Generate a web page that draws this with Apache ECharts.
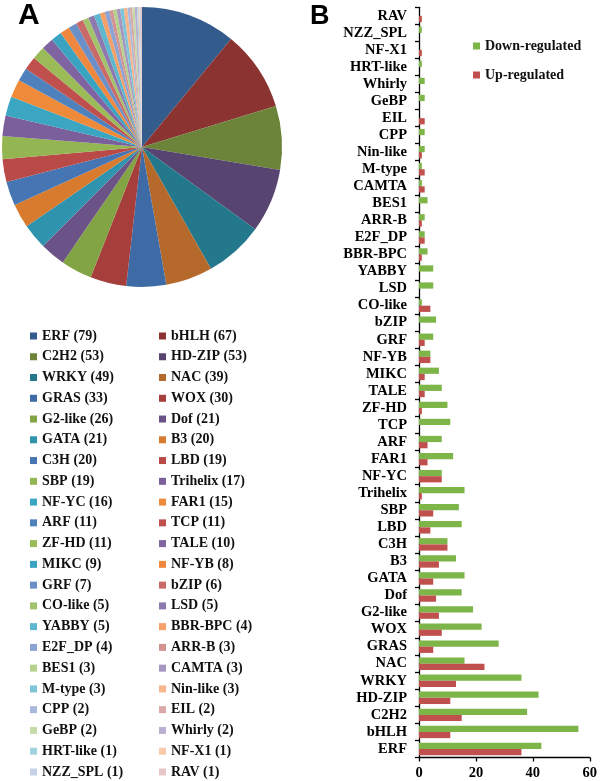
<!DOCTYPE html>
<html>
<head>
<meta charset="utf-8">
<script src="https://cdn.jsdelivr.net/npm/echarts@6/dist/echarts.min.js"></script>
<style>html,body{margin:0;padding:0;background:#fff;}#c{width:600px;height:781px;}</style>
</head>
<body>
<div id="c"></div>
<script>
var families = ['ERF','bHLH','C2H2','HD-ZIP','WRKY','NAC','GRAS','WOX','G2-like','Dof','GATA','B3','C3H','LBD','SBP','Trihelix','NF-YC','FAR1','ARF','TCP','ZF-HD','TALE','MIKC','NF-YB','GRF','bZIP','CO-like','LSD','YABBY','BBR-BPC','E2F_DP','ARR-B','BES1','CAMTA','M-type','Nin-like','CPP','EIL','GeBP','Whirly','HRT-like','NF-X1','NZZ_SPL','RAV'];
var familyCounts = [79,67,53,53,49,39,33,30,26,21,21,20,20,19,19,17,16,15,11,11,11,10,9,8,7,6,5,5,5,4,4,3,3,3,3,3,2,2,2,2,1,1,1,1];
var downRegulated = [43,56,38,42,36,16,28,22,19,15,16,13,10,15,14,16,8,12,8,11,10,8,7,4,5,6,1,5,5,3,2,2,3,1,1,2,2,0,2,2,1,0,1,0];
var upRegulated = [36,11,15,11,13,23,5,8,7,6,5,7,10,4,5,1,8,3,3,0,1,2,2,4,2,0,4,0,0,1,2,1,0,2,2,1,0,2,0,0,0,1,0,1];
var xTicks = [0,20,40,60];
var sliceColors = ['#335C8C','#8B3331','#6C8439','#584470','#23788C','#B5692A','#3E6BA5','#A63E3B','#83A445','#6B5387','#2F93AE','#D87B2E','#4675B3','#BA4A47','#93B552','#7A5F9A','#3BA6C2','#EF8A3A','#4F81BD','#C0504D','#9BBB59','#8064A2','#3AA3C2','#F0873F','#6C8FC7','#C96A68','#A3C26C','#8E79AF','#5DB7CF','#F5A066','#8CA4D3','#D49290','#B5D18D','#A595C1','#7EC4D8','#F6B58A','#A8B9DD','#DBA8A7','#C5DBA9','#BBB0D1','#A3D2E0','#F7CAAA','#C6D1E8','#E6C6C6'];

var countMap = {};
families.forEach(function(n,i){countMap[n]=familyCounts[i];});
var leftNames = families.filter(function(n,i){return i%2===0;});
var rightNames = families.filter(function(n,i){return i%2===1;});
var serif = 'Liberation Serif';

var pieLegend = function(names, left){
  return {
    data: names, orient: 'vertical', left: left, top: 328, height: 455, padding: 0,
    itemWidth: 7, itemHeight: 7, itemGap: 4.76, icon: 'rect',
    selectedMode: false,
    textStyle: {fontFamily: serif, fontWeight: 'bold', fontSize: 14, color: '#111', lineHeight: 16},
    formatter: function(name){ return name + ' (' + countMap[name] + ')'; }
  };
};

var chart = echarts.init(document.getElementById('c'));
chart.setOption({
  animation: false,
  graphic: [
    {type:'text', left: 18, top: 1, style:{text:'A', font:'bold 30px "Liberation Sans"', fill:'#000'}},
    {type:'text', left: 310, top: 3, style:{text:'B', font:'bold 27px "Liberation Sans"', fill:'#000'}}
  ],
  legend: [
    pieLegend(leftNames, 30),
    pieLegend(rightNames, 159),
    {
      data: ['Down-regulated','Up-regulated'], orient: 'vertical', left: 473, top: 38, padding: 0,
      itemWidth: 7, itemHeight: 7, itemGap: 13, icon: 'rect', selectedMode: false,
      textStyle: {fontFamily: serif, fontWeight: 'bold', fontSize: 14, color: '#111', lineHeight: 16}
    }
  ],
  grid: {left: 419, right: 9, top: 7.3, bottom: 23.5, containLabel: false},
  xAxis: {
    type: 'value', min: 0, max: 60, interval: 20,
    splitLine: {show: false},
    axisLine: {show: true, lineStyle: {color: '#000', width: 1.3}},
    axisTick: {show: true, length: 4, lineStyle: {color: '#000', width: 1.3}},
    axisLabel: {fontFamily: serif, fontWeight: 'bold', fontSize: 14.5, color: '#000', margin: 8,
      formatter: function(v){ return xTicks.indexOf(v) >= 0 ? String(v) : ''; }}
  },
  yAxis: {
    type: 'category', data: families,
    axisLine: {show: true, lineStyle: {color: '#000', width: 1.3}},
    axisTick: {show: true, length: 4, lineStyle: {color: '#000', width: 1.3}},
    axisLabel: {fontFamily: serif, fontWeight: 'bold', fontSize: 14.5, color: '#000', margin: 12, interval: 0}
  },
  series: [
    {
      type: 'pie', center: [142, 147], radius: 140, startAngle: 90, clockwise: true,
      label: {show: false}, labelLine: {show: false}, emphasis: {disabled: true},
      itemStyle: {borderWidth: 0},
      data: families.map(function(n,i){ return {name: n, value: familyCounts[i], itemStyle: {color: sliceColors[i]}}; })
    },
    {
      name: 'Down-regulated', type: 'bar', data: downRegulated,
      barGap: '0%', barCategoryGap: '27%',
      itemStyle: {color: '#7DB548'}, emphasis: {disabled: true}
    },
    {
      name: 'Up-regulated', type: 'bar', data: upRegulated,
      barGap: '0%', barCategoryGap: '27%',
      itemStyle: {color: '#C0504D'}, emphasis: {disabled: true}
    }
  ]
});
</script>
</body>
</html>
